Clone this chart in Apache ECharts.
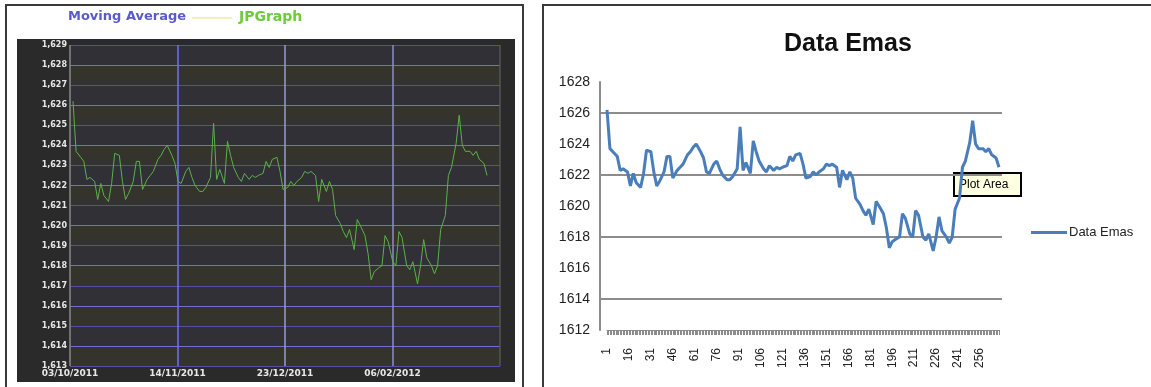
<!DOCTYPE html>
<html>
<head>
<meta charset="utf-8">
<script src="https://cdn.jsdelivr.net/npm/echarts@6/dist/echarts.min.js"></script>
<style>
  html, body { margin: 0; padding: 0; background: #fff; }
  #wrap { position: relative; width: 1151px; height: 387px; overflow: hidden; }
  .panel { position: absolute; box-sizing: border-box; border: 2px solid #3a3a3a; }
  #leftPanel { left: 5px; top: 4px; width: 519px; height: 400px; }
  #rightPanel { left: 542px; top: 4px; width: 640px; height: 400px; }
  #darkBox { position: absolute; left: 17px; top: 39px; width: 498px; height: 343px; background: #2a2a2a; }
  #chart { position: absolute; left: 0; top: 0; width: 1151px; height: 387px; }
</style>
</head>
<body>
<div id="wrap">
  <div id="leftPanel" class="panel"></div>
  <div id="rightPanel" class="panel"></div>
  <div id="darkBox"></div>
  <div id="chart"></div>
</div>
<script>
// Gold price series (Data Emas), readings taken evenly along the observation range
const priceEmas = [
  1626.2, 1623.7, 1623.4, 1623.2, 1622.3, 1622.4, 1622.2, 1621.3, 1622.1, 1621.5,
  1621.2, 1622.1, 1623.6, 1623.5, 1622.2, 1621.3, 1621.6, 1622.2, 1623.2, 1623.2,
  1621.8, 1622.3, 1622.5, 1622.7, 1623.3, 1623.5, 1623.8, 1624.0, 1623.5, 1623.1,
  1622.2, 1622.1, 1622.7, 1622.9, 1622.4, 1622.0, 1621.7, 1621.7, 1621.9, 1622.4,
  1625.1, 1622.3, 1622.8, 1622.1, 1624.2, 1623.5, 1622.9, 1622.4, 1622.2, 1622.6,
  1622.3, 1622.5, 1622.4, 1622.5, 1622.6, 1623.2, 1622.9, 1623.3, 1623.4, 1622.7,
  1621.8, 1621.9, 1622.2, 1622.0, 1622.2, 1622.4, 1622.7, 1622.6, 1622.7, 1622.5,
  1621.2, 1622.3, 1621.7, 1622.2, 1621.8, 1620.5, 1620.1, 1619.7, 1619.4, 1619.8,
  1618.8, 1620.3, 1620.0, 1619.5, 1618.6, 1617.3, 1617.7, 1617.9, 1618.0, 1619.5,
  1619.2, 1618.2, 1618.0, 1619.7, 1619.4, 1618.0, 1617.8, 1618.2, 1617.1, 1618.0,
  1619.3, 1618.4, 1618.0, 1617.6, 1618.0, 1619.8, 1620.5, 1622.5, 1622.9, 1624.1,
  1625.5, 1624.0, 1623.7, 1623.7, 1623.5, 1623.7, 1623.3, 1623.1, 1622.5
];

// Observation numbering: the series runs from observation 1 to 269
const firstObs = 1;
const lastObs = 269;
const obsLabelStep = 15;
const obsNumbers = priceEmas.map((_, i) =>
  firstObs + Math.round(i * (lastObs - firstObs) / (priceEmas.length - 1)));

// Date labels under the vertical guide lines of the dark chart
const leftDateLabels = ['03/10/2011', '14/11/2011', '23/12/2011', '06/02/2012'];

// Legend texts of the dark chart
const leftLegendNames = ['Moving Average', 'JPGraph'];

// Axis ranges
const leftYRange = [1613, 1629];
const rightYRange = [1612, 1628];
const rightYStep = 2;

const chart = echarts.init(document.getElementById('chart'), null, { renderer: 'canvas' });

const fmtThousands = v => {
  const s = String(Math.round(v));
  return s.length > 3 ? s.slice(0, s.length - 3) + ',' + s.slice(-3) : s;
};

const seriesPairs = priceEmas.map((v, i) => [obsNumbers[i], v]);

const option = {
  backgroundColor: 'transparent',
  animation: false,
  title: {
    text: 'Data Emas',
    left: 779,
    top: 27,
    textStyle: { fontFamily: 'Liberation Sans, Arial, sans-serif', fontSize: 25, fontWeight: 'bold', color: '#111' }
  },
  legend: {
    data: ['Data Emas'],
    left: 1026,
    top: 221,
    icon: 'rect',
    itemWidth: 36,
    itemHeight: 3,
    itemGap: 2,
    textStyle: { fontFamily: 'Liberation Sans, Arial, sans-serif', fontSize: 13, color: '#222', padding: [0, 0, 0, -3] }
  },
  grid: [
    // dark chart plot area
    { left: 70, top: 45, right: 651, bottom: 21, show: true, backgroundColor: '#303036', borderWidth: 0 },
    // Excel chart: gridline / value axis frame
    { left: 600, top: 82, right: 149, bottom: 57 },
    // Excel chart: series area
    { left: 607, top: 82, right: 152, bottom: 57 }
  ],
  xAxis: [
    {
      gridIndex: 0, type: 'value', min: 0, max: 4, interval: 1,
      axisLine: { show: false }, axisTick: { show: false },
      axisLabel: {
        color: '#e8e8e8', fontSize: 9, fontWeight: 'bold', margin: 3,
        fontFamily: 'DejaVu Sans, sans-serif',
        formatter: v => leftDateLabels[v] || ''
      },
      splitLine: { show: true, lineStyle: { color: ['#8a8a8a', '#6f6fff', '#9a9ad0', '#8c8cc8', '#555'], width: 1.5 } }
    },
    {
      gridIndex: 0, type: 'value', min: -0.94, max: 277.4, show: false
    },
    {
      gridIndex: 1, type: 'value', show: false, min: 0, max: 1
    },
    {
      gridIndex: 2, type: 'value', min: firstObs, max: lastObs, interval: obsLabelStep,
      axisLine: { show: true, lineStyle: { color: '#8c8c8c', width: 1 } },
      axisTick: { show: true, length: 5, lineStyle: { color: '#8c8c8c', width: 1 } },
      minorTick: { show: true, splitNumber: obsLabelStep, length: 5, lineStyle: { color: '#8c8c8c', width: 1 } },
      axisLabel: {
        rotate: 90, margin: 18, showMaxLabel: false,
        fontSize: 12, color: '#222', fontFamily: 'Liberation Sans, Arial, sans-serif',
        formatter: v => String(v)
      },
      splitLine: { show: false }
    }
  ],
  yAxis: [
    {
      gridIndex: 0, type: 'value', min: leftYRange[0], max: leftYRange[1], interval: 1,
      axisLine: { show: false }, axisTick: { show: false },
      axisLabel: {
        color: '#e8e8e8', fontSize: 8, fontWeight: 'bold', margin: 3,
        fontFamily: 'DejaVu Sans, sans-serif', formatter: fmtThousands
      },
      splitLine: { show: true, lineStyle: { color: ['#5252a0', '#7070d0'], width: 1 } },
      splitArea: { show: true, areaStyle: { color: ['#34342d', '#303036'] } }
    },
    {
      gridIndex: 1, type: 'value', min: rightYRange[0], max: rightYRange[1], interval: rightYStep,
      axisLine: { show: true, lineStyle: { color: '#8c8c8c', width: 2 } },
      axisTick: { show: false },
      axisLabel: {
        fontSize: 14, color: '#222', margin: 10, fontFamily: 'Liberation Sans, Arial, sans-serif',
        formatter: v => String(v)
      },
      splitLine: { show: true, lineStyle: { color: ['transparent', '#8c8c8c'], width: 2 } }
    },
    {
      gridIndex: 2, type: 'value', min: rightYRange[0], max: rightYRange[1], show: false
    }
  ],
  series: [
    {
      name: leftLegendNames[1],
      type: 'line',
      xAxisIndex: 1, yAxisIndex: 0,
      data: seriesPairs,
      symbol: 'none',
      lineStyle: { color: '#5cb04c', width: 1 },
      z: 5
    },
    {
      name: 'Data Emas',
      type: 'line',
      xAxisIndex: 3, yAxisIndex: 2,
      data: seriesPairs,
      symbol: 'none',
      lineStyle: { color: '#4a7ebb', width: 3 },
      itemStyle: { color: '#4a7ebb' },
      z: 5
    }
  ],
  graphic: [
    {
      type: 'text', left: 68, top: 10,
      style: { text: leftLegendNames[0], fill: '#5a5ad0', font: 'bold 13px "DejaVu Sans", sans-serif' }
    },
    {
      type: 'rect', shape: { x: 192, y: 17, width: 40, height: 2 },
      style: { fill: '#f2f2b8' }
    },
    {
      type: 'text', left: 239, top: 10,
      style: { text: leftLegendNames[1], fill: '#6ccc3c', font: 'bold 14px "DejaVu Sans", sans-serif' }
    },
    {
      type: 'group', left: 953, top: 172,
      children: [
        { type: 'rect', shape: { x: 0, y: 0, width: 67, height: 23 }, style: { fill: '#ffffe1', stroke: '#000', lineWidth: 2 } },
        { type: 'text', x: 5, y: 6, style: { text: 'Plot Area', fill: '#000', font: '12px "Liberation Sans", Arial, sans-serif' } }
      ]
    }
  ]
};

chart.setOption(option);
</script>
</body>
</html>
